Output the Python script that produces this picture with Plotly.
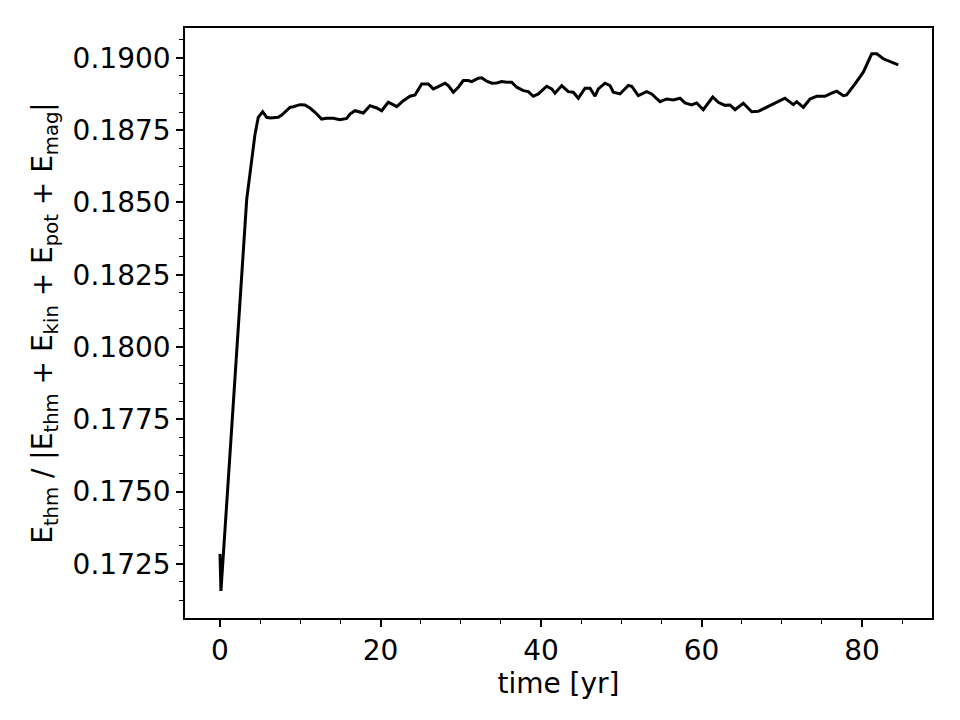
import plotly.graph_objects as go

# time [yr]
time_yr = [0.00, 0.12, 1.50, 2.60, 3.33, 4.36, 4.77, 5.32, 5.82, 6.23, 7.26, 7.69, 8.31, 8.72, 9.13,
           9.97, 10.59, 11.21, 11.84, 12.67, 13.30, 14.12, 14.95, 15.79, 16.20, 16.82, 17.86,
           18.69, 19.53, 20.15, 20.97, 22.02, 22.84, 23.68, 24.30, 25.13, 25.96, 26.58, 27.20,
           28.04, 28.45, 29.07, 29.70, 30.32, 30.94, 31.36, 32.19, 32.61, 33.23, 33.86, 34.48,
           35.10, 35.73, 36.35, 36.97, 37.79, 38.42, 39.04, 39.66, 40.71, 41.33, 41.74, 42.58,
           43.40, 44.02, 44.65, 45.48, 46.11, 46.73, 47.14, 47.98, 48.60, 49.01, 49.84, 50.88,
           51.30, 52.12, 53.17, 53.79, 54.83, 55.66, 56.49, 57.32, 57.94, 58.78, 59.40, 60.22,
           61.40, 62.09, 62.93, 63.55, 64.17, 65.21, 66.26, 67.08, 68.12, 69.37, 70.40, 71.44,
           71.86, 72.69, 73.52, 74.36, 75.39, 76.01, 76.85, 77.67, 78.09, 79.13, 80.16, 81.21,
           81.83, 82.65, 83.49, 84.11, 84.52]

# E_thm / |E_thm + E_kin + E_pot + E_mag|
energy_ratio = [0.172847, 0.171563, 0.177380, 0.182020, 0.185104, 0.187350, 0.187941, 0.188135,
                0.187941, 0.187917, 0.187941, 0.188021, 0.188194, 0.188288, 0.188309, 0.188379,
                0.188368, 0.188264, 0.188115, 0.187882, 0.187906, 0.187906, 0.187858, 0.187906,
                0.188056, 0.188170, 0.188090, 0.188344, 0.188264, 0.188170, 0.188462, 0.188309,
                0.188517, 0.188670, 0.188715, 0.189097, 0.189097, 0.188924, 0.189003, 0.189122,
                0.189038, 0.188809, 0.188983, 0.189212, 0.189212, 0.189177, 0.189295, 0.189306,
                0.189191, 0.189122, 0.189132, 0.189177, 0.189156, 0.189156, 0.188983, 0.188865,
                0.188830, 0.188670, 0.188750, 0.189017, 0.188924, 0.188774, 0.189038, 0.188830,
                0.188809, 0.188601, 0.188948, 0.188948, 0.188670, 0.188924, 0.189122, 0.189038,
                0.188809, 0.188750, 0.189045, 0.189017, 0.188691, 0.188830, 0.188750, 0.188483,
                0.188576, 0.188542, 0.188601, 0.188438, 0.188368, 0.188438, 0.188205, 0.188645,
                0.188462, 0.188355, 0.188368, 0.188205, 0.188427, 0.188135, 0.188149, 0.188288,
                0.188462, 0.188601, 0.188379, 0.188483, 0.188288, 0.188576, 0.188670, 0.188670,
                0.188750, 0.188844, 0.188691, 0.188715, 0.189097, 0.189503, 0.190139, 0.190139,
                0.189965, 0.189872, 0.189792, 0.189757]

x_ticks = [0, 20, 40, 60, 80]
y_ticks = [0.1725, 0.1750, 0.1775, 0.1800, 0.1825, 0.1850, 0.1875, 0.1900]

FONT = "DejaVu Sans"

fig = go.Figure()
fig.add_trace(go.Scatter(x=time_yr, y=energy_ratio, mode="lines",
                         line=dict(color="black", width=3), showlegend=False,
                         hoverinfo="skip"))

axis_common = dict(
    showgrid=False, zeroline=False, showline=True, linecolor="black", linewidth=1.6,
    mirror=True, ticks="outside", ticklen=7, tickwidth=1.6, tickcolor="black",
    tickfont=dict(family=FONT, size=28, color="black"),
)

fig.update_layout(
    width=960, height=720,
    margin=dict(l=185, r=28, t=28, b=102),
    paper_bgcolor="white", plot_bgcolor="white",
    font=dict(family=FONT, size=28, color="black"),
    xaxis=dict(
        **axis_common,
        range=[-4.36, 88.72],
        tickmode="array", tickvals=x_ticks, ticktext=[str(v) for v in x_ticks],
        minor=dict(dtick=5, tick0=0, ticks="outside", ticklen=4, tickwidth=1.3, tickcolor="black"),
        title=dict(text="time [yr]", font=dict(family=FONT, size=28, color="black"), standoff=4),
    ),
    yaxis=dict(
        **axis_common,
        range=[0.17063, 0.19103],
        tickmode="array", tickvals=y_ticks, ticktext=[f"{v:.4f}" for v in y_ticks],
        minor=dict(dtick=0.000625, tick0=0.1725, ticks="outside", ticklen=4, tickwidth=1.3, tickcolor="black"),
        title=dict(text="E<sub>thm</sub> / |E<sub>thm</sub> + E<sub>kin</sub> + E<sub>pot</sub> + E<sub>mag</sub>|",
                   font=dict(family=FONT, size=28, color="black"), standoff=12),
    ),
)

fig.write_html("out.html")
